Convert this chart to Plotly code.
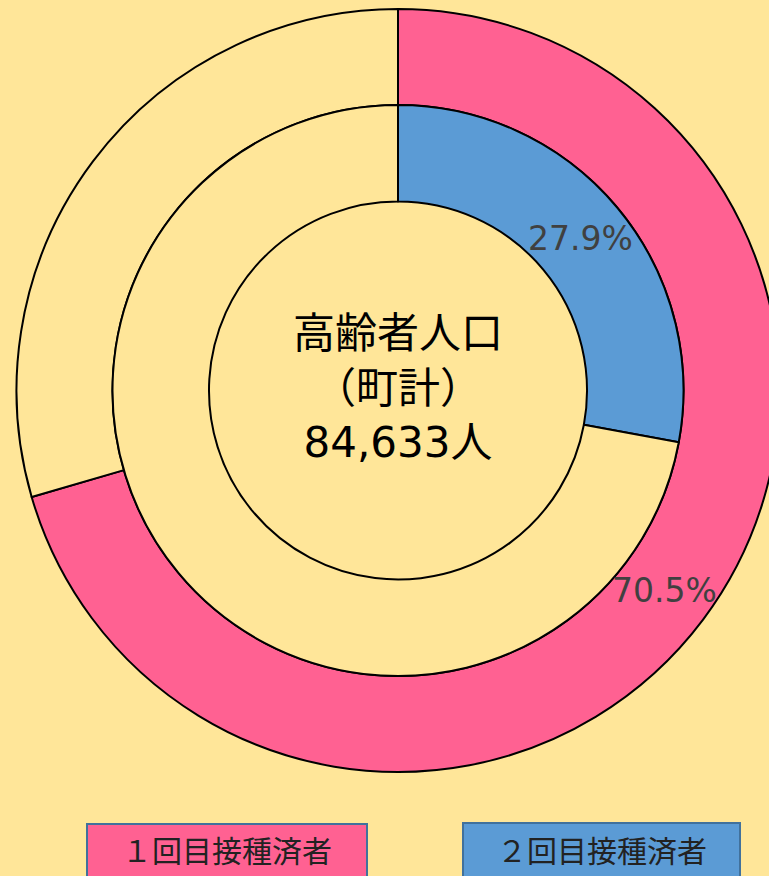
import math
import plotly.graph_objects as go

# ---- data ----
outer_labels = ["1回目接種済者", "未接種"]
outer_values = [70.5, 29.5]
inner_labels = ["2回目接種済者", "未接種"]
inner_values = [27.9, 72.1]
outer_text = ["70.5%", ""]
inner_text = ["27.9%", ""]
center_lines = ["高齢者人口", "（町計）", "84,633人"]
legend_texts = ["１回目接種済者", "２回目接種済者"]

# ---- styles ----
BG = "#FFE699"
PINK = "#FF6192"
BLUE = "#5B9BD5"
W, H = 790, 876
FONT = "DejaVu Sans, Noto Sans CJK JP"

def px_dom_x(a, b):
    return [a / W, b / W]

def px_dom_y(top, bottom):
    return [(H - bottom) / H, (H - top) / H]

cx, cy = 398, 390.5
r_out, r_mid, r_hole = 381.5, 285.5, 189

fig = go.Figure()
fig.add_trace(go.Pie(
    values=outer_values, labels=outer_labels,
    textinfo="none",
    sort=False, direction="clockwise", rotation=0,
    hole=r_mid / r_out,
    marker=dict(colors=[PINK, BG], line=dict(color="black", width=2)),
    domain=dict(x=px_dom_x(cx - r_out, cx + r_out), y=px_dom_y(cy - r_out, cy + r_out)),
    hoverinfo="skip", showlegend=False,
))
fig.add_trace(go.Pie(
    values=inner_values, labels=inner_labels,
    textinfo="none",
    sort=False, direction="clockwise", rotation=0,
    hole=r_hole / r_mid,
    marker=dict(colors=[BLUE, BG], line=dict(color="black", width=2)),
    domain=dict(x=px_dom_x(cx - r_mid, cx + r_mid), y=px_dom_y(cy - r_mid, cy + r_mid)),
    hoverinfo="skip", showlegend=False,
))

# slice labels at the middle of each slice (angle derived from the values)
def add_slice_labels(values, texts, r_lab):
    total = sum(values)
    cum = 0.0
    for v, t in zip(values, texts):
        mid = (cum + v / 2) / total * 2 * math.pi
        cum += v
        if not t:
            continue
        x = cx + r_lab * math.sin(mid)
        y = cy - r_lab * math.cos(mid)
        fig.add_annotation(x=x / W, y=(H - y) / H, xref="paper", yref="paper",
                           text=t, showarrow=False,
                           font=dict(family=FONT, size=33, color="#404040"),
                           xanchor="center", yanchor="middle")

add_slice_labels(outer_values, outer_text, (r_mid + r_out) / 2)
add_slice_labels(inner_values, inner_text, (r_hole + r_mid) / 2)

fig.add_annotation(
    x=cx / W, y=(H - 388) / H, xref="paper", yref="paper",
    text="<br>".join(center_lines), showarrow=False,
    font=dict(family=FONT, size=42, color="black"),
    xanchor="center", yanchor="middle", align="center",
)

# legend boxes
boxes = [(87, 367, 824, PINK), (463, 740, 823, BLUE)]
for (x0, x1, top, col), txt in zip(boxes, legend_texts):
    fig.add_shape(type="rect", xref="paper", yref="paper",
                  x0=x0 / W, x1=x1 / W, y0=(H - 900) / H, y1=(H - top) / H,
                  fillcolor=col, line=dict(color="#41719C", width=2), layer="above")
    fig.add_annotation(x=(x0 + x1) / 2 / W, y=(H - 849) / H, xref="paper", yref="paper",
                       text=txt, showarrow=False,
                       font=dict(family="Noto Sans CJK JP", size=30, color="#222222"),
                       xanchor="center", yanchor="middle")

fig.update_layout(
    width=W, height=H,
    margin=dict(l=0, r=0, t=0, b=0),
    paper_bgcolor=BG, plot_bgcolor=BG,
)

fig.write_html("out.html", config={"displayModeBar": False},
               post_script="document.body.style.margin='0';document.body.style.overflow='hidden';")
